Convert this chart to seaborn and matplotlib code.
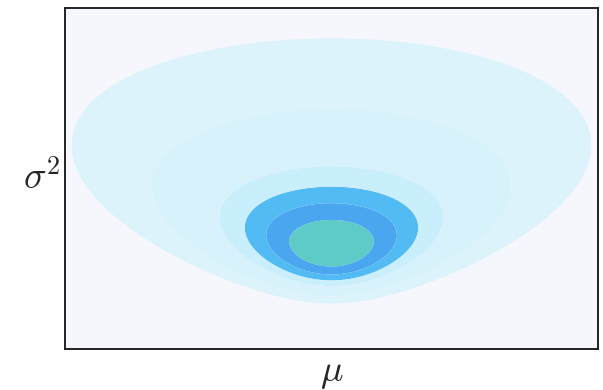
import numpy as np
import matplotlib.pyplot as plt
import seaborn as sns

sns.set_style("white")
plt.rcParams["mathtext.fontset"] = "cm"

# likelihood surface parameters (axes scaled to 0..1)
mu_hat = 0.5        # mu at the peak
s2_hat = 0.30       # sigma^2 at the peak
spread_k = 0.374    # strength of the mu term
s2_power = 2.0      # how fast the mu spread grows with sigma^2

# contour levels (distance from the peak) and fill colours, inner to outer
levels = [0.0, 0.025, 0.056, 0.092, 0.14, 0.28, 0.44]
fill_colors = ["#5ecbc6", "#4ba6f0", "#52bbf3", "#c8effb",
               "#d8f2fb", "#dcf3fb"]
bg_color = "#f6f7fd"

mu = np.linspace(0, 1, 600)
s2 = np.linspace(0.002, 1, 600)
M, S = np.meshgrid(mu, s2)
Z = (np.log(S / s2_hat) + s2_hat / S - 1
     + spread_k * (M - mu_hat) ** 2 / S ** s2_power)

fig = plt.figure(figsize=(6.03, 3.90), dpi=100)
ax = fig.add_axes([65 / 603, 41 / 390, 533 / 603, 341 / 390])
ax.set_facecolor(bg_color)
ax.contourf(M, S, Z, levels=levels, colors=fill_colors, antialiased=True)

ax.set_xlim(0, 1)
ax.set_ylim(0, 1)
ax.set_xticks([])
ax.set_yticks([])
for sp in ax.spines.values():
    sp.set_color("#222222")
    sp.set_linewidth(1.4)

ax.set_xlabel(r"$\mu$", fontsize=27, labelpad=4)
ax.set_ylabel(r"$\sigma^2$", fontsize=27, rotation=0, labelpad=17, va="center")

fig.savefig("out.png", dpi=100)
